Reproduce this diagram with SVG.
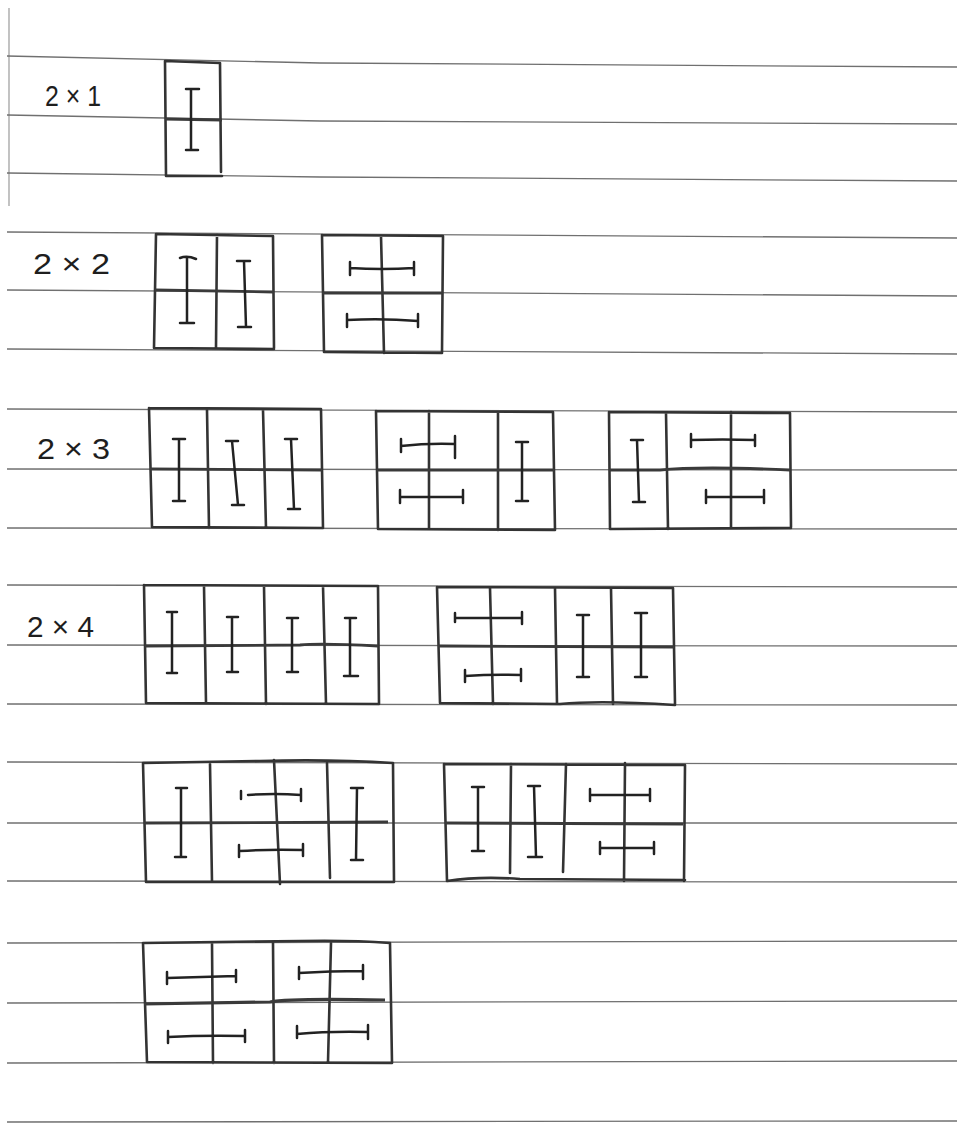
<svg xmlns="http://www.w3.org/2000/svg" width="957" height="1124" viewBox="0 0 957 1124">
<style>
.paper{stroke:#707070;stroke-width:1.3;fill:none}
.margin{stroke:#9a9a9a;stroke-width:1.2;fill:none}
.box{stroke:#333;stroke-width:2.6;fill:none;stroke-linecap:round;stroke-linejoin:round}
.mid{stroke:#3a3a3a;stroke-width:2.8;fill:none}
.dom{stroke:#222;stroke-width:2.5;fill:none;stroke-linecap:round}
.lbl{font-family:"Liberation Sans",Arial,sans-serif;font-size:30px;fill:#1e1e1e}
</style>
<rect width="957" height="1124" fill="#fff"/>
<g id="paper">
<path class="margin" d="M9 8 V206"/>
<path class="paper" d="M7 56 L320 63 L957 67"/>
<path class="paper" d="M7 115 L320 121 L957 124"/>
<path class="paper" d="M7 173 L320 177 L957 181"/>
<path class="paper" d="M7 232 L957 238"/>
<path class="paper" d="M7 290 L957 296"/>
<path class="paper" d="M7 349 L957 354"/>
<path class="paper" d="M7 409 L957 412"/>
<path class="paper" d="M7 469 L957 470"/>
<path class="paper" d="M7 528 L957 529"/>
<path class="paper" d="M7 585 L957 587"/>
<path class="paper" d="M7 645 L957 646"/>
<path class="paper" d="M7 704 L957 705"/>
<path class="paper" d="M7 762 L957 764"/>
<path class="paper" d="M7 823 L957 823"/>
<path class="paper" d="M7 881 L957 882"/>
<path class="paper" d="M7 943 L957 941"/>
<path class="paper" d="M7 1003 L957 1001"/>
<path class="paper" d="M7 1063 L957 1061"/>
<path class="paper" d="M7 1122 L957 1121"/>
</g>
<g id="labels">
<text class="lbl" x="45" y="106" textLength="56" lengthAdjust="spacingAndGlyphs">2 × 1</text>
<text class="lbl" x="33" y="274" textLength="77" lengthAdjust="spacingAndGlyphs">2 × 2</text>
<text class="lbl" x="37" y="459" textLength="73" lengthAdjust="spacingAndGlyphs">2 × 3</text>
<text class="lbl" x="27" y="637" textLength="67" lengthAdjust="spacingAndGlyphs">2 × 4</text>
</g>
<g id="t2x1">
<path class="box" d="M165 61 L220 63 M165 61 L166 176 M220 63 L221 172 M166 176 L222 176"/>
<path class="mid" d="M165 119 L222 120"/>
<path class="dom" d="M186 89 H199 M191 89 V150 M186 150 H198"/>
</g>
<g id="t2x2a">
<path class="box" d="M156 234 L273 236 M156 234 L154 348 M273 236 L274 348 M154 348 L274 349 M217 235 L216 348"/>
<path class="mid" d="M155 290 L274 292"/>
<path class="dom" d="M180 258 Q187 255 196 259 M187 257 V323 M180 323 H194"/>
<path class="dom" d="M237 261 H250 M244 261 L246 327 M238 327 H251"/>
</g>
<g id="t2x2b">
<path class="box" d="M322 235 L443 236 M322 235 L324 352 M443 236 L442 353 M324 352 L442 353 M381 236 L384 353"/>
<path class="mid" d="M322 293 L443 293"/>
<path class="dom" d="M350 262 V275 M350 268 Q382 270 414 268 M414 262 V275"/>
<path class="dom" d="M347 314 V327 M347 320 Q382 318 418 321 M418 314 V327"/>
</g>
<g id="t2x3a">
<path class="box" d="M149 408 L321 409 M149 408 L152 527 M321 409 L323 528 M152 527 L323 528 M207 410 L209 528 M263 410 L266 528"/>
<path class="mid" d="M150 469 L322 470"/>
<path class="dom" d="M173 439 H185 M179 439 V501 M173 501 H185"/>
<path class="dom" d="M226 441 H238 M232 441 L238 505 M232 505 H244"/>
<path class="dom" d="M285 439 H297 M291 439 L294 509 M288 509 H300"/>
</g>
<g id="t2x3b">
<path class="box" d="M376 411 L553 412 M376 411 L378 529 M553 412 L555 530 M378 529 L555 530 M429 411 L429 529 M498 412 L498 530"/>
<path class="mid" d="M377 470 L554 470"/>
<path class="dom" d="M401 439 V452 M401 446 Q428 443 455 444 M455 436 V458"/>
<path class="dom" d="M400 490 V503 M400 497 H463 M463 490 V503"/>
<path class="dom" d="M516 442 H528 M522 442 V501 M516 501 H528"/>
</g>
<g id="t2x3c">
<path class="box" d="M609 412 L790 413 M609 412 L610 529 M790 413 L791 527 M610 529 L791 528 M666 413 L668 529 M731 412 L731 527"/>
<path class="mid" d="M609 470 L660 470 Q700 466 790 470"/>
<path class="dom" d="M631 440 H643 M637 440 L639 502 M633 502 H645"/>
<path class="dom" d="M691 434 V447 M691 440 Q722 439 755 440 M755 435 V446"/>
<path class="dom" d="M706 490 V503 M706 497 H764 M764 490 V503"/>
</g>
<g id="t2x4a">
<path class="box" d="M144 585 L378 586 M144 585 L146 703 M378 586 L379 704 M146 703 L379 704 M204 586 L206 703 M264 586 L266 704 M323 586 L326 704"/>
<path class="mid" d="M145 646 L300 645 Q320 643 378 646"/>
<path class="dom" d="M167 612 H177 M172 612 V673 M167 673 H177"/>
<path class="dom" d="M227 617 H238 M232 617 V672 M227 672 H238"/>
<path class="dom" d="M287 618 H298 M292 618 V672 M287 672 H298"/>
<path class="dom" d="M345 618 H356 M350 618 V676 M344 676 H358"/>
</g>
<g id="t2x4b">
<path class="box" d="M437 587 L673 588 M437 587 L440 703 M673 588 L675 704 M440 703 L560 704 Q600 700 675 705 M490 588 L493 704 M555 588 L557 704 M611 588 L613 704"/>
<path class="mid" d="M438 646 L674 647"/>
<path class="dom" d="M455 613 V622 M455 618 H522 M522 612 V624"/>
<path class="dom" d="M465 670 V682 M465 676 Q493 674 521 675 M521 669 V681"/>
<path class="dom" d="M577 615 H589 M583 615 V677 M577 677 H589"/>
<path class="dom" d="M635 613 H647 M641 613 V677 M635 677 H647"/>
</g>
<g id="t2x4c">
<path class="box" d="M143 763 L260 761 Q330 759 393 763 M143 763 L146 882 M393 763 L394 882 M146 882 L394 882 M210 764 L212 882 M274 760 L280 884 M327 763 L330 878"/>
<path class="mid" d="M144 823 L388 822"/>
<path class="dom" d="M176 788 H187 M181 788 V857 M175 857 H186"/>
<path class="dom" d="M241 791 V799 M248 795 Q274 793 301 795 M301 789 V801"/>
<path class="dom" d="M239 845 V857 M239 851 Q270 849 303 850 M303 844 V856"/>
<path class="dom" d="M351 788 H363 M357 788 L356 860 M351 860 H363"/>
</g>
<g id="t2x4d">
<path class="box" d="M444 764 L685 765 M444 764 L447 881 M685 765 L684 881 M447 881 Q480 876 520 879 L685 880 M511 764 L510 873 M566 764 L563 872 M625 763 L624 881"/>
<path class="mid" d="M445 823 L683 824"/>
<path class="dom" d="M472 787 H484 M478 787 V851 M472 851 H484"/>
<path class="dom" d="M528 786 H540 M534 786 L536 857 M528 857 H542"/>
<path class="dom" d="M590 789 V801 M590 795 H650 M650 789 V801"/>
<path class="dom" d="M600 842 V854 M600 848 H654 M654 842 V854"/>
</g>
<g id="t2x4e">
<path class="box" d="M143 943 L300 941 Q350 940 390 943 M143 943 L147 1062 M390 943 L392 1063 M147 1062 L392 1063 M212 943 L213 1063 M273 943 L274 1063 M331 943 L328 1062"/>
<path class="mid" d="M144 1004 L270 1002 Q290 998 385 1000" style="stroke-width:3.2"/>
<path class="dom" d="M167 972 V984 M167 978 Q200 977 236 976 M236 970 V982"/>
<path class="dom" d="M168 1031 V1043 M168 1037 Q205 1035 245 1036 M245 1030 V1042"/>
<path class="dom" d="M299 967 V979 M299 973 Q330 971 363 971 M363 965 V979"/>
<path class="dom" d="M297 1026 V1038 M297 1034 Q330 1031 368 1032 M368 1025 V1039"/>
</g>
</svg>
